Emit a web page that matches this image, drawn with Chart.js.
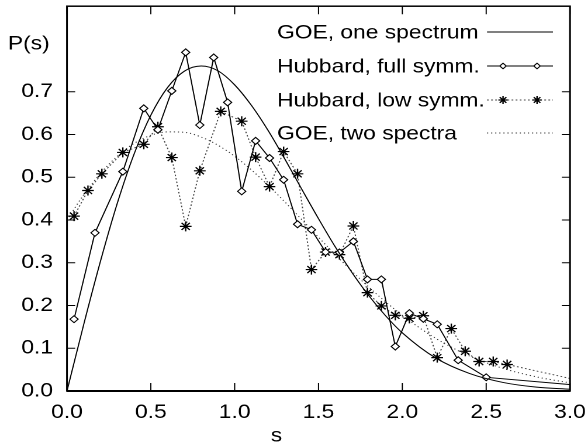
<!DOCTYPE html>
<html lang="en">
<head>
<meta charset="UTF-8">
<title>Level spacing distribution</title>
<style>
  html, body { margin: 0; padding: 0; background: #fff; overflow: hidden; }
  /* the reference is a bit wider than tall in its glyphs, so draw narrow and stretch */
  .wrap { width: 503px; height: 445px; transform: scaleX(1.169); transform-origin: 0 0; }
</style>
</head>
<body>
<div class="wrap"><canvas id="spacingChart"></canvas></div>

<script src="https://cdn.jsdelivr.net/npm/chart.js"></script>
<script>
    // Hubbard, full symmetry (diamonds)
    const fullS = [0.042, 0.167, 0.333, 0.458, 0.542, 0.625, 0.708, 0.792, 0.875, 0.958, 1.042, 1.125, 1.208, 1.292,
                   1.375, 1.458, 1.542, 1.625, 1.708, 1.792, 1.875, 1.958, 2.042, 2.125, 2.208, 2.333, 2.5, 3.3];
    const fullP = [0.168, 0.370, 0.513, 0.661, 0.611, 0.702, 0.792, 0.622, 0.780, 0.675, 0.467, 0.585, 0.545, 0.494,
                   0.390, 0.377, 0.325, 0.324, 0.350, 0.261, 0.261, 0.104, 0.182, 0.169, 0.156, 0.072, 0.032, 0.005];

    // Hubbard, low symmetry (asterisks)
    const lowS = [0.042, 0.125, 0.208, 0.333, 0.458, 0.542, 0.625, 0.708, 0.792, 0.917, 1.042, 1.125, 1.208, 1.292,
                  1.375, 1.458, 1.542, 1.625, 1.708, 1.792, 1.875, 1.958, 2.042, 2.125, 2.208, 2.292, 2.375, 2.458,
                  2.542, 2.625, 3.2];
    const lowP = [0.409, 0.469, 0.508, 0.558, 0.577, 0.618, 0.546, 0.385, 0.515, 0.654, 0.631, 0.547, 0.478, 0.560,
                  0.508, 0.284, 0.325, 0.319, 0.386, 0.230, 0.199, 0.177, 0.170, 0.176, 0.078, 0.146, 0.093, 0.069,
                  0.069, 0.062, 0.012];

    // GOE, one spectrum (smooth curve)
    const goeOneS = [0, 0.1, 0.2, 0.3, 0.4, 0.5, 0.6, 0.7, 0.8, 0.9, 1.0, 1.1, 1.2, 1.3, 1.4, 1.5, 1.6, 1.7, 1.8, 1.9,
                     2.0, 2.2, 2.4, 2.6, 2.8, 3.0];
    const goeOneP = [0, 0.156, 0.304, 0.439, 0.554, 0.645, 0.710, 0.748, 0.760, 0.749, 0.716, 0.668, 0.609, 0.542,
                     0.472, 0.403, 0.337, 0.277, 0.223, 0.176, 0.136, 0.077, 0.041, 0.020, 0.009, 0.004];

    // GOE, two spectra
    const goeTwoS = [0, 0.1, 0.2, 0.3, 0.4, 0.5, 0.6, 0.7, 0.8, 0.9, 1.0, 1.1, 1.2, 1.3, 1.4, 1.6, 1.8, 2.0, 2.2,
                     2.4, 2.6, 2.8, 3.0];
    const goeTwoP = [0.400, 0.459, 0.509, 0.549, 0.579, 0.598, 0.606, 0.605, 0.594, 0.575, 0.549, 0.517, 0.481, 0.442,
                     0.401, 0.319, 0.243, 0.177, 0.123, 0.082, 0.053, 0.033, 0.019];

    const xTicks = [0, 0.5, 1.0, 1.5, 2.0, 2.5, 3.0];
    const yTicks = [0, 0.1, 0.2, 0.3, 0.4, 0.5, 0.6, 0.7];
    const legendLabels = ['GOE, one spectrum', 'Hubbard, full symm.', 'Hubbard, low symm.', 'GOE, two spectra'];

    const FONT = "'Liberation Sans', Arial, Helvetica, sans-serif";
    Chart.defaults.font.family = FONT;
    Chart.defaults.font.size = 19.5;
    Chart.defaults.color = '#000';

    const pts = (xs, ys) => xs.map((x, i) => ({ x: x, y: ys[i] }));

    // inward tick marks on all four sides plus the box
    const frame = {
        id: 'frame',
        beforeDatasetsDraw(chart) {
            const { ctx, chartArea: a, scales: { x, y } } = chart;
            ctx.save();
            ctx.strokeStyle = '#000';
            ctx.lineWidth = 1;
            ctx.beginPath();
            xTicks.forEach(v => {
                const px = x.getPixelForValue(v);
                ctx.moveTo(px, a.bottom); ctx.lineTo(px, a.bottom - 8);
                ctx.moveTo(px, a.top); ctx.lineTo(px, a.top + 8);
            });
            yTicks.forEach(v => {
                const py = y.getPixelForValue(v);
                ctx.moveTo(a.left, py); ctx.lineTo(a.left + 7, py);
                ctx.moveTo(a.right, py); ctx.lineTo(a.right - 7, py);
            });
            ctx.stroke();
            ctx.restore();
        },
        afterDatasetsDraw(chart) {
            const { ctx, chartArea: a } = chart;
            ctx.save();
            ctx.strokeStyle = '#000';
            ctx.lineWidth = 1.5;
            ctx.strokeRect(a.left, a.top, a.right - a.left, a.bottom - a.top);
            ctx.lineWidth = 2;
            ctx.beginPath();
            ctx.moveTo(a.left, a.bottom);
            ctx.lineTo(a.right, a.bottom);
            ctx.stroke();
            ctx.restore();
        }
    };

    // gnuplot style key: text on the left, line sample on the right
    const keyBox = {
        id: 'keyBox',
        afterDraw(chart) {
            const ctx = chart.ctx;
            const rows = [32, 66, 100, 133];
            ctx.save();
            ctx.font = `19.5px ${FONT}`;
            ctx.fillStyle = '#000';
            ctx.textBaseline = 'middle';
            ctx.textAlign = 'left';
            chart.data.datasets.forEach((ds, i) => {
                const yy = rows[i];
                ctx.fillText(legendLabels[i], 237, yy + 1);
                ctx.save();
                ctx.strokeStyle = ds.borderColor;
                ctx.lineWidth = ds.borderWidth;
                ctx.setLineDash(ds.borderDash || []);
                ctx.beginPath();
                ctx.moveTo(416.6, yy);
                ctx.lineTo(473, yy);
                ctx.stroke();
                ctx.restore();
                if (ds.pointRadius > 0) {
                    [430.3, 459.4].forEach(px => {
                        ctx.save();
                        ctx.fillStyle = ds.pointBackgroundColor;
                        ctx.strokeStyle = ds.pointBorderColor;
                        ctx.lineWidth = ds.pointBorderWidth;
                        Chart.helpers.drawPoint(ctx, {
                            pointStyle: ds.pointStyle, radius: ds.pointRadius * 0.8,
                            borderWidth: ds.pointBorderWidth, rotation: 0
                        }, px, yy);
                        ctx.restore();
                    });
                }
            });
            // axis titles
            ctx.fillText('P(s)', 6.8, 44);
            ctx.textAlign = 'center';
            ctx.fillText('s', 236.5, 436);
            ctx.restore();
        }
    };

    new Chart(document.getElementById('spacingChart').getContext('2d'), {
        type: 'line',
        data: {
            datasets: [{
                label: legendLabels[0],
                data: pts(goeOneS, goeOneP),
                borderColor: '#000',
                borderWidth: 1,
                pointRadius: 0,
                cubicInterpolationMode: 'monotone'
            }, {
                label: legendLabels[1],
                data: pts(fullS, fullP),
                borderColor: '#000',
                borderWidth: 1,
                pointStyle: 'rectRot',
                pointRadius: 3.5,
                pointBackgroundColor: '#fff',
                pointBorderColor: '#000',
                pointBorderWidth: 1,
                tension: 0
            }, {
                label: legendLabels[2],
                data: pts(lowS, lowP),
                borderColor: '#444',
                borderWidth: 1,
                borderDash: [1.5, 2],
                pointStyle: 'star',
                pointRadius: 5,
                pointBackgroundColor: '#000',
                pointBorderColor: '#000',
                pointBorderWidth: 1.2,
                tension: 0
            }, {
                label: legendLabels[3],
                data: pts(goeTwoS, goeTwoP),
                borderColor: '#333',
                borderWidth: 1,
                borderDash: [1, 2.5],
                pointRadius: 0,
                cubicInterpolationMode: 'monotone'
            }]
        },
        options: {
            responsive: true,
            maintainAspectRatio: false,
            animation: false,
            devicePixelRatio: 2,
            layout: { padding: { left: 0, top: 6, right: 15.4, bottom: 0 } },
            plugins: { legend: { display: false }, tooltip: { enabled: false } },
            scales: {
                x: {
                    type: 'linear',
                    min: 0,
                    max: 3,
                    afterBuildTicks: s => { s.ticks = xTicks.map(v => ({ value: v })); },
                    afterFit: s => { s.height = 54; s.paddingLeft = 0; s.paddingRight = 0; },
                    ticks: { padding: 10, maxRotation: 0, callback: v => v.toFixed(1) },
                    grid: { display: false, drawTicks: false },
                    border: { display: false }
                },
                y: {
                    min: 0,
                    max: 0.9,
                    afterBuildTicks: s => { s.ticks = yTicks.map(v => ({ value: v })); },
                    afterFit: s => { s.width = 57.3; s.paddingTop = 0; s.paddingBottom = 0; },
                    ticks: { padding: 12, callback: v => v.toFixed(1) },
                    grid: { display: false, drawTicks: false },
                    border: { display: false }
                }
            }
        },
        plugins: [frame, keyBox]
    });
</script>
</body>
</html>
